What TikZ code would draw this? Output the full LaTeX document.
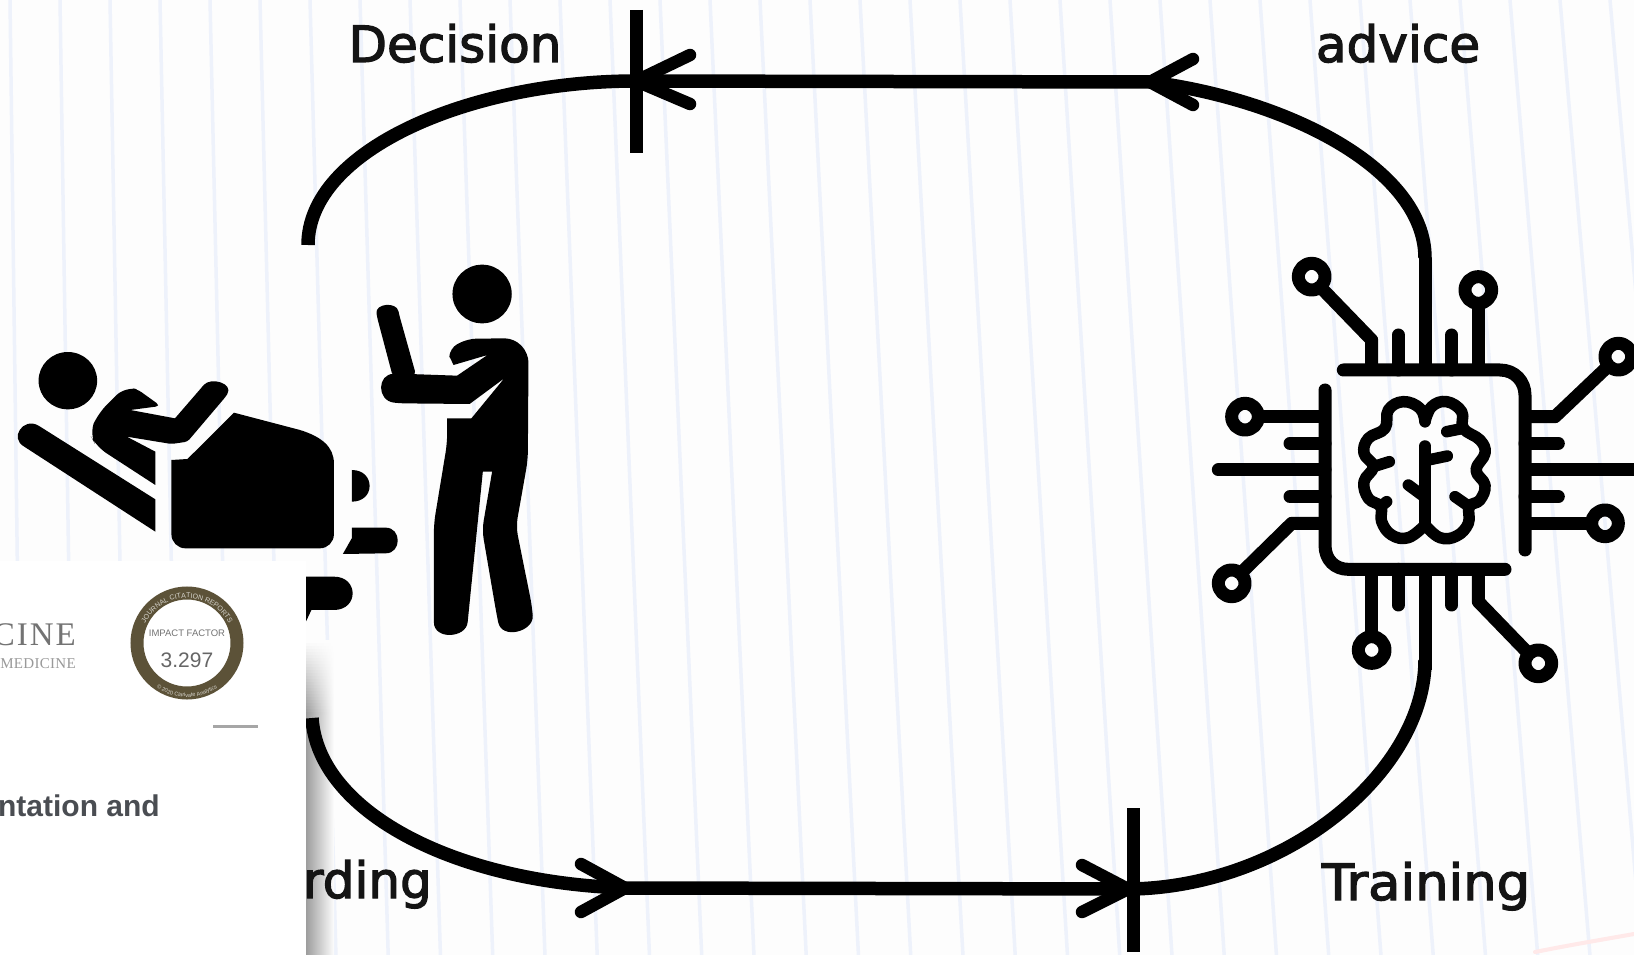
\documentclass[tikz,border=0pt]{standalone}
\usepackage{fontspec}
\usetikzlibrary{decorations.text}
\setmainfont{Liberation Sans}
\newfontfamily\handfont[FakeBold=2.5]{DejaVu Sans}
\newfontfamily\journalfont[LetterSpace=6]{Liberation Serif}
\newfontfamily\journalsmall[LetterSpace=2]{Liberation Serif}
\definecolor{pagebg}{HTML}{FDFDFD}
\definecolor{ruleblue}{HTML}{EEF2FB}
\definecolor{sealbrown}{HTML}{5C5238}
\definecolor{inkgrey}{HTML}{4A4D52}
\tikzset{
  loopline/.style={line width=13.5pt,black},
  chevron/.style={line width=12.5pt,black,line cap=round,line join=round},
  tickbar/.style={line width=13pt,black},
  handlabel/.style={inner sep=0pt,font=\handfont\fontsize{50}{50}\selectfont,text=black!92},
  sil/.style={fill=black,draw=none},
  circ/.style={line width=13pt,black,line cap=round,line join=round},
  brainln/.style={line width=11.5pt,black,line cap=round,line join=round},
}
\begin{document}
\begin{tikzpicture}[x=1pt,y=-1pt]
\useasboundingbox (0,0) rectangle (1634,955);
\fill[pagebg] (0,0) rectangle (1634,955);
% ruled paper
\foreach \u in {10,60,...,1680}{
  \draw[ruleblue,line width=3.5pt] (\u,0) -- ({\u+12+\u*0.045},955);
}
\draw[pink!35,line width=4pt,line cap=round] (1535,952) .. controls (1570,945) and (1600,940) .. (1634,934);
% shadow of the panel
\foreach \i in {0,...,24}{
  \pgfmathsetmacro{\sh}{\i*1.6}
  \pgfmathsetmacro{\ya}{640+3*\i}
  \pgfmathsetmacro{\yb}{640+3*\i+3.4}
  \colorlet{shc}{black!\sh!pagebg}
  \shade[left color=shc,right color=pagebg] (306,\ya) rectangle (334,\yb);
}
\colorlet{shc}{black!38!pagebg}
\shade[left color=shc,right color=pagebg] (306,715) rectangle (334,955);
% ---------- loop
\coordinate (tlstart) at (308,245);
\coordinate (tltip) at (636,81);
\coordinate (trtip) at (1150,82);
\coordinate (trend) at (1425,258);
\coordinate (blstart) at (312,718);
\coordinate (bltip) at (625,888);
\coordinate (brtip) at (1133,889);
\coordinate (brend) at (1425,660);
\draw[loopline] (tlstart) .. controls (308,150) and (470,81) .. (tltip);
\draw[loopline] (tltip) -- (trtip);
\draw[loopline] (trtip) .. controls (1290,100) and (1425,170) .. (trend);
\draw[loopline] (blstart) .. controls (318,810) and (450,882) .. (bltip);
\draw[loopline] (bltip) -- (brtip);
\draw[loopline] (brtip) .. controls (1290,885) and (1425,770) .. (brend);
\draw[tickbar] (636,10) -- (636,153);
\draw[tickbar] (1133,808) -- (1133,952);
\draw[chevron] (690,55) -- (tltip) -- (690,104);
\draw[chevron] (1193,59) -- (trtip) -- (1193,105);
\draw[chevron] (581,864) -- (bltip) -- (581,912);
\draw[chevron] (1082,865) -- (1128,889) -- (1082,912);
% ---------- labels
\node[handlabel,anchor=base] (decision) at (455,62) {Decision};
\node[handlabel,anchor=base] (advice) at (1398,62) {advice};
\node[handlabel,anchor=base] (training) at (1426,900) {\scalebox{1.055}[1]{Training}};
\node[handlabel,anchor=base east] (rding) at (432,898) {rding};
% ---------- patient and clinician
\begin{scope}[shift={(0,230)},xscale=1/2.8,yscale=1/3]
  \fill[sil] (190,452) ellipse (82 and 86);
  % back rest
  \fill[sil] (435,808) -- (108,587) .. controls (65,560) and (25,625) .. (68,650) -- (435,905) -- cycle;
  % torso and arm
  \fill[sil,rounded corners=5pt] (350,470) -- (385,478) -- (450,528) [sharp corners] -- (365,540) -- (490,565) [rounded corners=3pt] -- (565,472) .. controls (590,440) and (655,460) .. (632,500) -- (525,635) -- (480,642) [sharp corners] -- (355,620) -- (435,665) -- (435,765) [rounded corners=12pt] -- (270,650) -- (250,610) -- (275,550) -- cycle;
  % drape
  \fill[sil] (480,800) [sharp corners] -- (480,690) -- (525,687) -- (655,548) -- (840,600) .. controls (900,620) and (935,650) .. (935,700) [rounded corners=14pt] -- (935,955) -- (480,955) [sharp corners] -- cycle;
  % knees and foot
  \fill[sil] (985,720) .. controls (1020,720) and (1035,745) .. (1035,768) .. controls (1035,795) and (1015,815) .. (985,815) -- cycle;
  \fill[sil] (985,893) -- (1080,893) .. controls (1125,893) and (1125,970) .. (1080,970) -- (960,972) -- (985,925) -- cycle;
  \fill[sil] (850,1040) -- (935,1040) .. controls (1005,1040) and (1005,1140) .. (935,1140) -- (872,1140) -- (850,1190) -- cycle;
  % clinician
  \fill[sil] (1350,192) ellipse (83 and 88);
  \fill[sil,rounded corners=4pt] (1056,262) .. controls (1050,220) and (1110,215) .. (1118,255) -- (1165,435) -- (1100,440) -- cycle;
  \fill[sil,rounded corners=9pt] (1258,378) -- (1258,355) -- (1310,326) -- (1440,325) -- (1480,370) -- (1478,690) -- (1445,890) -- (1490,1130) .. controls (1495,1205) and (1405,1230) .. (1390,1150) -- (1350,900) [sharp corners] -- (1378,725) -- (1352,725) [rounded corners=9pt] -- (1312,1150) .. controls (1305,1225) and (1215,1230) .. (1215,1150) -- (1215,880) -- (1252,640) [sharp corners] -- (1252,565) -- (1320,565) -- (1412,445) -- (1315,522) [rounded corners=6pt] -- (1120,520) .. controls (1055,512) and (1055,432) .. (1120,431) [sharp corners] -- (1280,437) -- (1365,375) -- (1270,405) -- cycle;
\end{scope}
% ---------- AI chip
\begin{scope}[shift={(1190,240)},scale=1/3]
  \draw[circ] (460,390) -- (930,390) .. controls (975,390) and (1005,425) .. (1005,465) -- (1005,930);
  \draw[circ] (405,450) -- (405,915) .. controls (405,960) and (435,988) .. (475,988) -- (945,988);
  % stems top
  \draw[circ,line cap=butt] (545,390) -- (545,300) -- (395,145);
  \draw[circ] (625,390) -- (625,285);
  \draw[circ,line cap=butt] (705,390) -- (705,55);
  \draw[circ] (785,390) -- (785,285);
  \draw[circ,line cap=butt] (865,390) -- (865,190);
  % stems right
  \draw[circ,line cap=butt] (1005,530) -- (1095,530) -- (1255,378);
  \draw[circ] (1005,610) -- (1105,610);
  \draw[circ,line cap=butt] (1005,690) -- (1334,690);
  \draw[circ] (1005,770) -- (1105,770);
  \draw[circ,line cap=butt] (1005,850) -- (1205,850);
  % stems left
  \draw[circ,line cap=butt] (405,530) -- (205,530);
  \draw[circ] (405,610) -- (300,610);
  \draw[circ] (405,690) -- (85,690);
  \draw[circ] (405,770) -- (300,770);
  \draw[circ,line cap=butt] (405,850) -- (305,850) -- (152,1000);
  % stems bottom
  \draw[circ,line cap=butt] (545,988) -- (545,1190);
  \draw[circ] (625,988) -- (625,1095);
  \draw[circ,line cap=butt] (705,988) -- (705,1290);
  \draw[circ] (785,988) -- (785,1095);
  \draw[circ,line cap=butt] (865,988) -- (865,1085) -- (1015,1240);
  % terminals
  \draw[circ] (365,110) circle (40);
  \draw[circ] (865,150) circle (40);
  \draw[circ] (1285,350) circle (40);
  \draw[circ] (1245,850) circle (40);
  \draw[circ] (165,530) circle (40);
  \draw[circ] (125,1030) circle (40);
  \draw[circ] (545,1230) circle (40);
  \draw[circ] (1045,1270) circle (40);
  % brain
  \draw[brainln] plot[smooth,tension=0.7] coordinates {(705,545) (690,505) (640,485) (595,510) (585,565) (535,595) (522,640) (550,680) (522,725) (535,775) (572,800) (575,845) (605,885) (655,893) (705,855)};
  \draw[brainln] plot[smooth,tension=0.7] coordinates {(705,545) (725,500) (770,485) (815,515) (820,565) (870,600) (885,640) (858,690) (885,735) (870,780) (838,800) (835,850) (800,888) (750,893) (705,855)};
  \draw[brainln] (550,680) -- (598,665);
  \draw[brainln] (572,800) -- (590,785);
  \draw[brainln] (770,575) -- (820,565);
  \draw[brainln] (838,800) -- (795,770);
  \draw[brainln] (705,618) -- (705,855);
  \draw[brainln] (705,662) -- (772,648);
  \draw[brainln] (705,772) -- (655,735);
\end{scope}
% ---------- overlapping article panel
\fill[white] (0,561) rectangle (306,955);
\begin{scope}
  \clip (0,561) rectangle (306,955);
  \node[anchor=base east,inner sep=0pt,text=black!55,font=\journalfont\fontsize{33}{33}\selectfont] (cine) at (76,645) {CINE};
  \node[anchor=base east,inner sep=0pt,text=black!40,font=\journalsmall\fontsize{15}{15}\selectfont] (medicine) at (76,668) {MEDICINE};
  \node[circle,draw=sealbrown,line width=13pt,minimum size=100pt,inner sep=0pt,fill=white] (seal) at (187,643) {};
  \path[postaction={decorate,decoration={text along path,text align=center,text={|\fontsize{7}{7}\selectfont\color{white!75!sealbrown}|JOURNAL CITATION REPORTS}}}] (140,645) arc[start angle=180,end angle=360,radius=47];
  \path[postaction={decorate,decoration={text along path,text align=center,text={|\fontsize{5.5}{5.5}\selectfont\color{white!75!sealbrown}|© 2020 Clarivate Analytics}}}] (140.2,670) arc[start angle=150,end angle=30,radius=54];
  \node[inner sep=0pt,text=black!55,font=\fontsize{9.5}{9.5}\selectfont] (impact) at (187,633) {IMPACT FACTOR};
  \node[inner sep=0pt,text=black!60,font=\fontsize{21}{21}\selectfont] (ifvalue) at (187,660) {3.297};
  \draw[black!35,line width=3pt] (213,726) -- (258,726);
  \node[anchor=base east,inner sep=0pt,text=inkgrey,font=\bfseries\fontsize{30}{30}\selectfont] (titleline) at (160,816) {ntation and};
\end{scope}
\end{tikzpicture}
\end{document}
